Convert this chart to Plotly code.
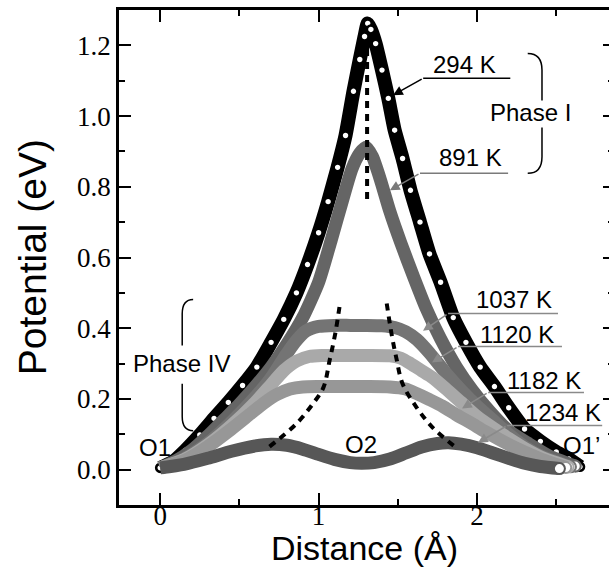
import plotly.graph_objects as go

# Potential profile along the O1 -> O2 -> O1' hopping path
# Distance in Å, potential in eV, one series per temperature.
dist_294 = [0.00, 0.08, 0.16, 0.25, 0.34, 0.43, 0.52, 0.61, 0.70, 0.78, 0.86, 0.93,
            1.00, 1.06, 1.12, 1.17, 1.22, 1.26, 1.29, 1.31, 1.33, 1.36, 1.40, 1.44,
            1.48, 1.53, 1.58, 1.64, 1.70, 1.77, 1.85, 1.93, 2.02, 2.11, 2.20, 2.30,
            2.40, 2.50, 2.58, 2.65]
pot_294 = [0.005, 0.022, 0.055, 0.098, 0.145, 0.190, 0.238, 0.290, 0.360, 0.425, 0.500, 0.580,
           0.670, 0.758, 0.855, 0.945, 1.070, 1.160, 1.225, 1.262, 1.245, 1.205, 1.130, 1.050,
           0.960, 0.880, 0.790, 0.700, 0.610, 0.530, 0.430, 0.360, 0.290, 0.235, 0.175, 0.115,
           0.080, 0.050, 0.030, 0.008]

dist_891 = [0.00, 0.10, 0.20, 0.30, 0.40, 0.50, 0.60, 0.70, 0.80, 0.90, 1.00, 1.08, 1.15,
            1.21, 1.26, 1.30, 1.34, 1.39, 1.45, 1.52, 1.60, 1.68, 1.77, 1.87, 1.97, 2.08,
            2.20, 2.32, 2.45, 2.62]
pot_891 = [0.005, 0.025, 0.055, 0.095, 0.140, 0.185, 0.235, 0.290, 0.355, 0.430, 0.530, 0.650, 0.760,
           0.850, 0.895, 0.912, 0.885, 0.820, 0.730, 0.640, 0.545, 0.455, 0.370, 0.290, 0.225, 0.165,
           0.110, 0.075, 0.040, 0.010]

dist_1037 = [0.00, 0.15, 0.30, 0.45, 0.60, 0.70, 0.78, 0.85, 0.92, 1.00, 1.10, 1.20, 1.30,
             1.40, 1.48, 1.55, 1.62, 1.70, 1.80, 1.90, 2.00, 2.10, 2.20, 2.30, 2.42, 2.59]
pot_1037 = [0.005, 0.030, 0.075, 0.135, 0.205, 0.260, 0.315, 0.360, 0.392, 0.405, 0.408, 0.408, 0.408,
            0.407, 0.402, 0.390, 0.368, 0.330, 0.275, 0.225, 0.180, 0.140, 0.100, 0.065, 0.035, 0.008]

dist_1120 = [0.00, 0.15, 0.30, 0.45, 0.60, 0.70, 0.78, 0.86, 0.94, 1.02, 1.15, 1.30, 1.45,
             1.52, 1.58, 1.65, 1.72, 1.80, 1.90, 2.00, 2.10, 2.20, 2.30, 2.42, 2.575]
pot_1120 = [0.005, 0.028, 0.070, 0.125, 0.190, 0.240, 0.280, 0.307, 0.320, 0.323, 0.323, 0.323, 0.322,
            0.315, 0.300, 0.280, 0.260, 0.230, 0.190, 0.150, 0.118, 0.088, 0.060, 0.032, 0.008]

dist_1182 = [0.00, 0.15, 0.30, 0.45, 0.57, 0.66, 0.74, 0.82, 0.90, 1.00, 1.15, 1.30, 1.45,
             1.55, 1.62, 1.70, 1.78, 1.87, 1.96, 2.05, 2.15, 2.25, 2.35, 2.45, 2.56]
pot_1182 = [0.005, 0.025, 0.065, 0.115, 0.158, 0.190, 0.213, 0.228, 0.234, 0.235, 0.235, 0.235, 0.234,
            0.228, 0.215, 0.198, 0.180, 0.155, 0.132, 0.108, 0.083, 0.060, 0.040, 0.022, 0.006]

dist_1234 = [0.00, 0.15, 0.30, 0.45, 0.60, 0.70, 0.80, 0.90, 1.00, 1.10, 1.20, 1.27, 1.35,
             1.45, 1.55, 1.65, 1.75, 1.82, 1.90, 2.00, 2.10, 2.20, 2.30, 2.40, 2.52]
pot_1234 = [0.005, 0.015, 0.032, 0.052, 0.067, 0.072, 0.069, 0.058, 0.043, 0.029, 0.020, 0.018, 0.020,
            0.030, 0.047, 0.064, 0.074, 0.076, 0.072, 0.062, 0.047, 0.032, 0.018, 0.009, 0.003]

# Dashed guide lines: saddle position and plateau edges
guide_mid_x = [1.306, 1.306]
guide_mid_y = [1.19, 0.75]
guide_left_x = [0.69, 0.86, 0.965, 1.03, 1.07, 1.105, 1.135]
guide_left_y = [0.065, 0.130, 0.187, 0.232, 0.310, 0.385, 0.470]
guide_right_x = [1.43, 1.46, 1.49, 1.53, 1.62, 1.72, 1.86]
guide_right_y = [0.470, 0.385, 0.317, 0.243, 0.175, 0.119, 0.065]

grey_series = [
    ("891 K", dist_891, pot_891, "#656565"),
    ("1037 K", dist_1037, pot_1037, "#747474"),
    ("1120 K", dist_1120, pot_1120, "#a9a9a9"),
    ("1182 K", dist_1182, pot_1182, "#979797"),
    ("1234 K", dist_1234, pot_1234, "#575757"),
]

SANS = "Liberation Sans"
SERIF = "Liberation Serif"

fig = go.Figure()

# 294 K: open circles drawn over a thick black band
fig.add_trace(go.Scatter(x=dist_294, y=pot_294, mode="lines",
                         line=dict(color="black", width=14, shape="spline", smoothing=0.5),
                         showlegend=False, hoverinfo="skip"))
fig.add_trace(go.Scatter(x=dist_294, y=pot_294, mode="markers",
                         marker=dict(size=8, color="white", line=dict(color="black", width=2.6)),
                         showlegend=False, name="294 K"))

for name, xs, ys, col in grey_series:
    fig.add_trace(go.Scatter(x=xs, y=ys, mode="lines", name=name,
                             line=dict(color=col, width=13, shape="spline", smoothing=0.6),
                             showlegend=False))
    fig.add_trace(go.Scatter(x=xs[-1:], y=ys[-1:], mode="markers",
                             marker=dict(size=11, color="white", line=dict(color=col, width=2)),
                             showlegend=False, hoverinfo="skip"))

for gx, gy in [(guide_mid_x, guide_mid_y), (guide_left_x, guide_left_y),
               (guide_right_x, guide_right_y)]:
    fig.add_trace(go.Scatter(x=gx, y=gy, mode="lines",
                             line=dict(color="black", width=4, dash="7px,6px", shape="spline"),
                             showlegend=False, hoverinfo="skip"))

# empty trace carrying the right-hand tick axis
fig.add_trace(go.Scatter(x=[], y=[], yaxis="y2", showlegend=False))

# Temperature labels: text, underline and arrow to the curve
labels = [
    # text, text_x, text_y, tail_x, line_end_x, line_y, head_x, head_y, colour
    ("294 K", 1.92, 1.146, 1.66, 2.21, 1.107, 1.47, 1.059, "black"),
    ("891 K", 1.956, 0.883, 1.64, 2.196, 0.838, 1.45, 0.79, "#7a7a7a"),
    ("1037 K", 2.233, 0.481, 1.817, 2.511, 0.4415, 1.659, 0.393, "#8a8a8a"),
    ("1120 K", 2.253, 0.3835, 1.88, 2.536, 0.348, 1.716, 0.303, "#8a8a8a"),
    ("1182 K", 2.42, 0.253, 2.07, 2.675, 0.218, 1.905, 0.173, "#8a8a8a"),
    ("1234 K", 2.54, 0.163, 2.19, 2.79, 0.1245, 2.006, 0.076, "#8a8a8a"),
]
annotations = []
shapes = []
for text, tx, ty, x0, x1, ly, hx, hy, col in labels:
    annotations.append(dict(x=tx, y=ty, xref="x", yref="y", text=text, showarrow=False,
                            font=dict(family=SANS, size=24, color="black")))
    shapes.append(dict(type="line", xref="x", yref="y", x0=x0, x1=x1, y0=ly, y1=ly,
                       line=dict(color=col, width=1.5)))
    annotations.append(dict(x=hx, y=hy, xref="x", yref="y", ax=x0, ay=ly, axref="x", ayref="y",
                            text="", showarrow=True, arrowhead=2, arrowsize=1.3,
                            arrowwidth=1.5, arrowcolor=col, standoff=0))

for text, tx, ty in [("O1", -0.03, 0.062), ("O2", 1.27, 0.07), ("O1\u2019", 2.66, 0.068),
                     ("Phase I", 2.335, 1.01), ("Phase IV", 0.133, 0.30)]:
    annotations.append(dict(x=tx, y=ty, xref="x", yref="y", text=text, showarrow=False,
                            font=dict(family=SANS, size=24, color="black")))

# Axis titles
annotations.append(dict(x=0.5, y=-0.087, xref="paper", yref="paper", text="Distance (Å)",
                        showarrow=False, yanchor="middle",
                        font=dict(family=SANS, size=34, color="black")))
annotations.append(dict(x=-0.176, y=0.5, xref="paper", yref="paper", text="Potential (eV)",
                        showarrow=False, textangle=-90, xanchor="center",
                        font=dict(family=SANS, size=39, color="black")))

# Braces grouping the phases
brace = dict(color="black", width=1.5)
shapes += [
    dict(type="path", xref="x", yref="y", line=brace,
         path="M 2.32 1.177 Q 2.41 1.177 2.41 1.13 L 2.41 1.044"),
    dict(type="path", xref="x", yref="y", line=brace,
         path="M 2.41 0.968 L 2.41 0.885 Q 2.41 0.838 2.32 0.838"),
    dict(type="path", xref="x", yref="y", line=brace,
         path="M 0.208 0.481 Q 0.139 0.481 0.139 0.44 L 0.139 0.351"),
    dict(type="path", xref="x", yref="y", line=brace,
         path="M 0.139 0.243 L 0.139 0.150 Q 0.139 0.110 0.208 0.110"),
]

fig.update_layout(
    width=609, height=569,
    margin=dict(l=119, r=0, t=10, b=64),
    paper_bgcolor="white", plot_bgcolor="white",
    showlegend=False,
    annotations=annotations,
    shapes=shapes,
    xaxis=dict(range=[-0.26, 2.833], dtick=1, tick0=0, mirror="ticks",
               showgrid=False, zeroline=False, showline=True, linecolor="black", linewidth=2.5,
               ticks="inside", ticklen=12, tickwidth=2, tickcolor="black",
               minor=dict(ticks="inside", ticklen=6, dtick=0.5, tickwidth=2, tickcolor="black"),
               tickfont=dict(family=SERIF, size=27, color="black"), ticklabelstandoff=-15),
    yaxis=dict(range=[-0.1, 1.3], dtick=0.2, tick0=0, tickformat=".1f", mirror=False,
               showgrid=False, zeroline=False, showline=True, linecolor="black", linewidth=2.5,
               ticks="inside", ticklen=12, tickwidth=2, tickcolor="black",
               minor=dict(ticks="inside", ticklen=6, dtick=0.1, tickwidth=2, tickcolor="black"),
               tickfont=dict(family=SERIF, size=27, color="black")),
    yaxis2=dict(range=[-0.1, 1.3], overlaying="y", side="right", showline=False,
                linecolor="rgba(0,0,0,0)", linewidth=0,
                showgrid=False, zeroline=False, showticklabels=False,
                ticks="inside", ticklen=6, tickwidth=2, tickcolor="black", dtick=0.2, tick0=0,
                minor=dict(ticks="inside", ticklen=1, dtick=0.1, tickwidth=2, tickcolor="black")),
)

fig.write_html("out.html")
